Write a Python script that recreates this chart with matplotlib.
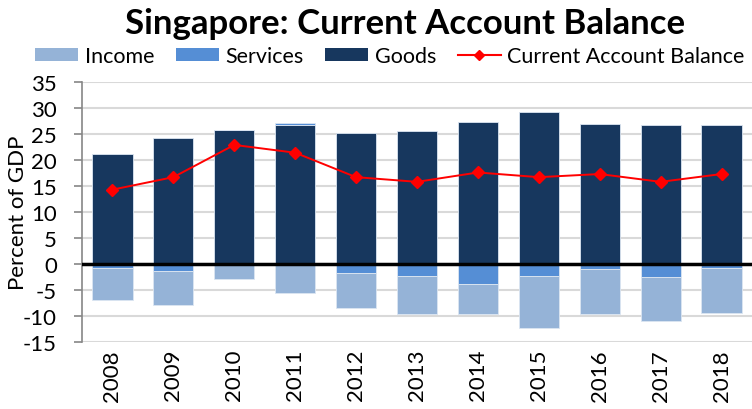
import numpy as np
import matplotlib
matplotlib.use("Agg")
import matplotlib.pyplot as plt
from matplotlib.lines import Line2D
from matplotlib.patches import Patch

# ── DATA (% of GDP) ───────────────────────────────────────────────────────────
years    = ["2008", "2009", "2010", "2011", "2012", "2013",
            "2014", "2015", "2016", "2017", "2018"]
goods    = [21.2, 24.2, 25.8, 26.7, 25.2, 25.5, 27.3, 29.2, 27.0, 26.7, 26.7]
services = [-0.8, -1.4,  0.0,  0.4, -1.7, -2.3, -3.8, -2.3, -0.9, -2.5, -0.7]
income   = [-6.1, -6.4, -2.9, -5.6, -6.8, -7.4, -5.8, -10.1, -8.8, -8.4, -8.7]
cab      = [14.3, 16.7, 22.9, 21.4, 16.7, 15.8, 17.6, 16.7, 17.3, 15.8, 17.3]

C_INCOME   = "#95B3D7"
C_SERVICES = "#558ED5"
C_GOODS    = "#17375E"

plt.rcParams["font.family"] = ["Lato", "DejaVu Sans"]

W, H = 752, 410
fig = plt.figure(figsize=(W / 100, H / 100), dpi=100)
# axes box in pixels: left 82, right 752, top 83, bottom 343
ax = fig.add_axes([82 / W, (H - 343) / H, (752 - 82) / W, (343 - 83) / H])

x = np.arange(len(years))
bw = 0.66

# stack positives and negatives separately (goods, services, income)
pos = np.zeros(len(x))
neg = np.zeros(len(x))
for vals, col in [(goods, C_GOODS), (services, C_SERVICES), (income, C_INCOME)]:
    v = np.array(vals)
    bottom = np.where(v >= 0, pos, neg)
    ax.bar(x, v, bw, bottom=bottom, color=col, edgecolor="#dce6f2",
           linewidth=0.6, zorder=2)
    pos = pos + np.where(v >= 0, v, 0)
    neg = neg + np.where(v < 0, v, 0)

ax.plot(x, cab, color="#FF0000", linewidth=1.4, marker="D", markersize=6.5,
        zorder=4)
ax.axhline(0, color="black", linewidth=2.5, zorder=3)

ax.set_xlim(-0.5, len(x) - 0.5)
ax.set_ylim(-15, 35)
ax.set_yticks(range(-15, 36, 5))
ax.set_yticklabels([str(v) for v in range(-15, 36, 5)], fontsize=16)
ax.set_xticks(x)
ax.set_xticklabels(years, rotation=90, fontsize=16)
ax.tick_params(axis="x", length=0, pad=5)
ax.tick_params(axis="y", length=6, width=1.2, color="#868686", pad=12)
ax.grid(axis="y", color="#d9d9d9", linewidth=1.5, zorder=0)
ax.set_axisbelow(True)
for s in ["top", "right", "bottom"]:
    ax.spines[s].set_visible(False)
ax.spines["left"].set_color("#868686")
ax.spines["left"].set_linewidth(1.2)
ax.set_ylabel("Percent of GDP", fontsize=16)
ax.yaxis.set_label_coords((28 - 82) / 670, 0.5)

fig.text(405 / W, 1 - 24 / H, "Singapore: Current Account Balance",
         ha="center", va="center", fontsize=25, fontweight="bold")

handles = [
    Patch(facecolor=C_INCOME, label="Income"),
    Patch(facecolor=C_SERVICES, label="Services"),
    Patch(facecolor=C_GOODS, label="Goods"),
    Line2D([0], [0], color="#FF0000", linewidth=1.5, marker="D",
           markersize=5, label="Current Account Balance"),
]
fig.legend(handles=handles, loc="center", bbox_to_anchor=(390 / W, 1 - 57 / H),
           ncol=4, frameon=False, fontsize=15.5, handlelength=2.0,
           handleheight=0.6, handletextpad=0.3, columnspacing=1.0,
           borderaxespad=0)

fig.savefig("out.png", dpi=100)
